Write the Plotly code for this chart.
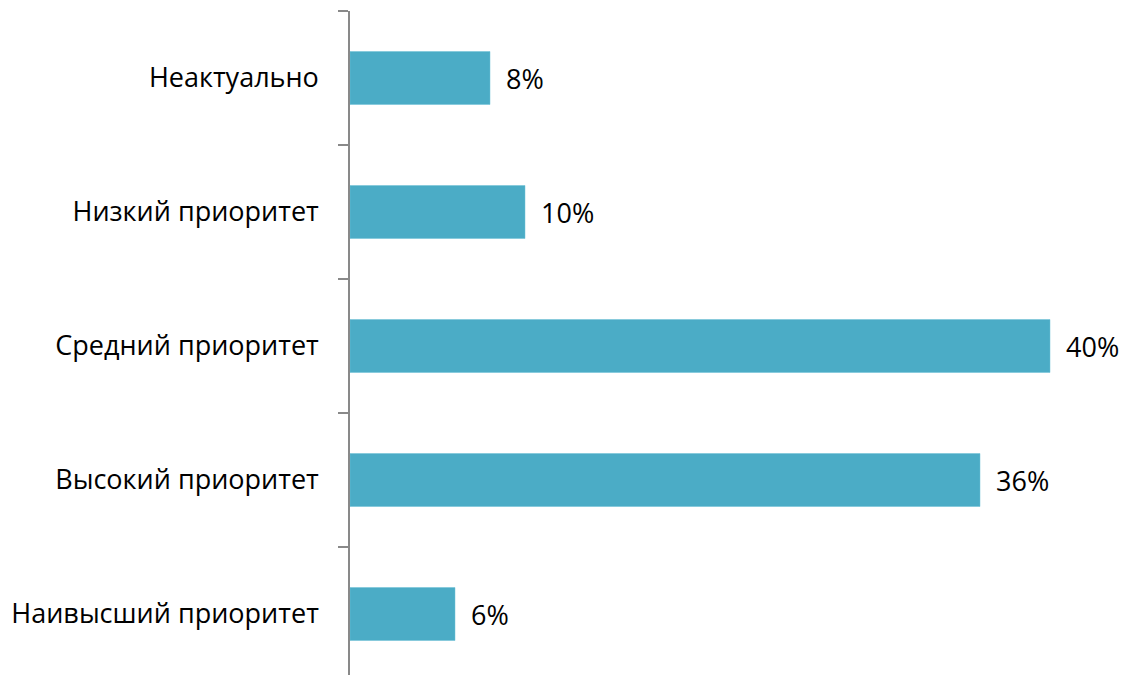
import plotly.graph_objects as go

categories = ["Неактуально", "Низкий приоритет", "Средний приоритет", "Высокий приоритет", "Наивысший приоритет"]
values = [8, 10, 40, 36, 6]
boundaries = [-0.5, 0.5, 1.5, 2.5, 3.5]

positions = list(range(len(categories)))
FONT = "Open Sans"
AXIS_COLOR = "#898989"
BAR_COLOR = "#4BACC6"

fig = go.Figure()
fig.add_trace(go.Bar(
    x=values,
    y=positions,
    orientation="h",
    width=0.395,
    marker=dict(color=BAR_COLOR, line=dict(color="#6cc0d6", width=0.5)),
    hoverinfo="skip",
))

for v, p in zip(values, positions):
    fig.add_annotation(
        x=v, y=p, text=f"{v}%", showarrow=False,
        xanchor="left", yanchor="middle", xshift=14,
        font=dict(family=FONT, size=27, color="#000000"),
    )

fig.update_layout(
    width=1119, height=667,
    margin=dict(l=342, r=0, t=3, b=0),
    paper_bgcolor="white", plot_bgcolor="white",
    showlegend=False,
    xaxis=dict(visible=False, range=[0, 44.4], fixedrange=True),
    yaxis=dict(
        range=[4.455, -0.5],
        tickvals=positions,
        ticktext=categories,
        ticks="",
        showgrid=False,
        zeroline=False,
        showline=True,
        linecolor=AXIS_COLOR,
        linewidth=1.5,
        ticklabelstandoff=24,
        tickfont=dict(family=FONT, size=27, color="#000000"),
        minor=dict(tickvals=boundaries, ticks="outside", ticklen=10,
                   tickcolor=AXIS_COLOR, tickwidth=1.5, showgrid=False),
    ),
)

fig.write_html("out.html")
